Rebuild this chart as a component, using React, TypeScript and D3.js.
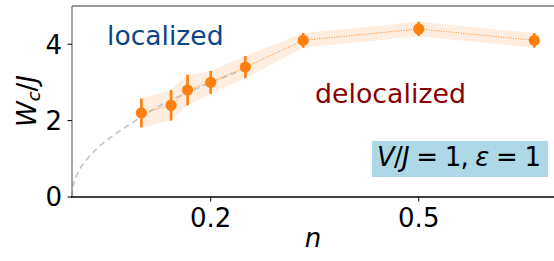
import React from "react";
import * as d3 from "d3";

const nValues = [0.1, 1 / 7, 1 / 6, 0.2, 0.25, 1 / 3, 0.5, 2 / 3];
const wcValues = [2.2, 2.4, 2.8, 3.0, 3.4, 4.1, 4.4, 4.1];
const wcErrors = [0.38, 0.4, 0.4, 0.3, 0.29, 0.19, 0.19, 0.19];
const fitN = [0, 0.002, 0.008, 0.02, 0.036, 0.055, 0.075, 0.1, 0.125, 0.15, 0.175, 0.2, 0.225, 0.25];
const fitW = [0, 0.32, 0.62, 0.95, 1.27, 1.55, 1.8, 2.1, 2.37, 2.6, 2.8, 3.0, 3.18, 3.35];
const xTicks = [0.2, 0.5];
const yTicks = [0, 2, 4];

const W = 554;
const H = 261;
const FONT = "DejaVu Sans";
const ORANGE = "#ff7f0e";

export default function App() {
  const x = d3.scaleLinear().domain([0, 0.695]).range([72, 554]);
  const y = d3.scaleLinear().domain([0, 5]).range([197, 6]);
  const pts = nValues.map((n, i) => ({ n, w: wcValues[i], e: wcErrors[i] }));
  const band = d3
    .area<{ n: number; w: number; e: number }>()
    .x((d) => x(d.n))
    .y0((d) => y(d.w - d.e))
    .y1((d) => y(d.w + d.e));
  const line = d3
    .line<{ n: number; w: number }>()
    .x((d) => x(d.n))
    .y((d) => y(d.w));
  const fitPts = fitN.map((n, i) => ({ n, w: fitW[i] }));
  const fitLine = d3
    .line<{ n: number; w: number }>()
    .x((d) => x(d.n))
    .y((d) => y(d.w))
    .curve(d3.curveMonotoneX);

  return (
    <svg
      width={W}
      height={H}
      style={{ position: "absolute", left: 0, top: 0, background: "#fff" }}
      fontFamily={FONT}
    >
      <path d={band(pts) || ""} fill={ORANGE} fillOpacity={0.13} stroke="none" />
      <path
        d={fitLine(fitPts) || ""}
        fill="none"
        stroke="#c8c8c8"
        strokeWidth={1.8}
        strokeDasharray="6,4"
      />
      <path
        d={line(pts) || ""}
        fill="none"
        stroke={ORANGE}
        strokeWidth={0.9}
        strokeDasharray="1,1.5"
      />
      {pts.map((p, i) => (
        <g key={i}>
          <line
            x1={x(p.n)}
            x2={x(p.n)}
            y1={y(p.w - p.e)}
            y2={y(p.w + p.e)}
            stroke={ORANGE}
            strokeWidth={2.6}
          />
          <circle cx={x(p.n)} cy={y(p.w)} r={5.6} fill={ORANGE} />
        </g>
      ))}

      {/* spines */}
      <line x1={72} x2={554} y1={6} y2={6} stroke="#777" strokeWidth={1.3} />
      <line x1={72} x2={72} y1={6} y2={197} stroke="#777" strokeWidth={1.3} />
      <line x1={71} x2={554} y1={197} y2={197} stroke="#000" strokeWidth={1.3} />

      {yTicks.map((t) => (
        <g key={t}>
          <line x1={67.5} x2={72} y1={y(t)} y2={y(t)} stroke="#000" strokeWidth={1} />
          <text
            x={62}
            y={y(t)}
            dy="0.36em"
            textAnchor="end"
            fontSize={26}
            fill="#000"
          >
            {t}
          </text>
        </g>
      ))}
      {xTicks.map((t) => (
        <g key={t}>
          <line x1={x(t)} x2={x(t)} y1={197} y2={201.5} stroke="#000" strokeWidth={1} />
          <text x={x(t)} y={227} textAnchor="middle" fontSize={26} fill="#000">
            {t}
          </text>
        </g>
      ))}

      <text x={313} y={247} textAnchor="middle" fontSize={26} fontStyle="italic" fill="#000">
        n
      </text>
      <text
        transform="translate(36,101) rotate(-90)"
        textAnchor="middle"
        fontSize={26}
        fill="#000"
      >
        <tspan fontStyle="italic">W</tspan>
        <tspan fontStyle="italic" fontSize={18} dy={4}>c</tspan>
        <tspan dy={-4}>/</tspan>
        <tspan fontStyle="italic">J</tspan>
      </text>

      <text x={107} y={45} fontSize={26.6} fill="#0b4586">
        localized
      </text>
      <text x={315} y={103} fontSize={26.8} fill="#8b0000">
        delocalized
      </text>

      <rect x={372} y={141} width={176} height={36} fill="#add8e6" />
      <text x={377} y={166} fontSize={26} fill="#000" textLength={164} lengthAdjust="spacing">
        <tspan fontStyle="italic">V</tspan>
        <tspan>/</tspan>
        <tspan fontStyle="italic">J</tspan>
        <tspan> = 1, </tspan>
        <tspan fontStyle="italic">ε</tspan>
        <tspan> = 1</tspan>
      </text>
    </svg>
  );
}
